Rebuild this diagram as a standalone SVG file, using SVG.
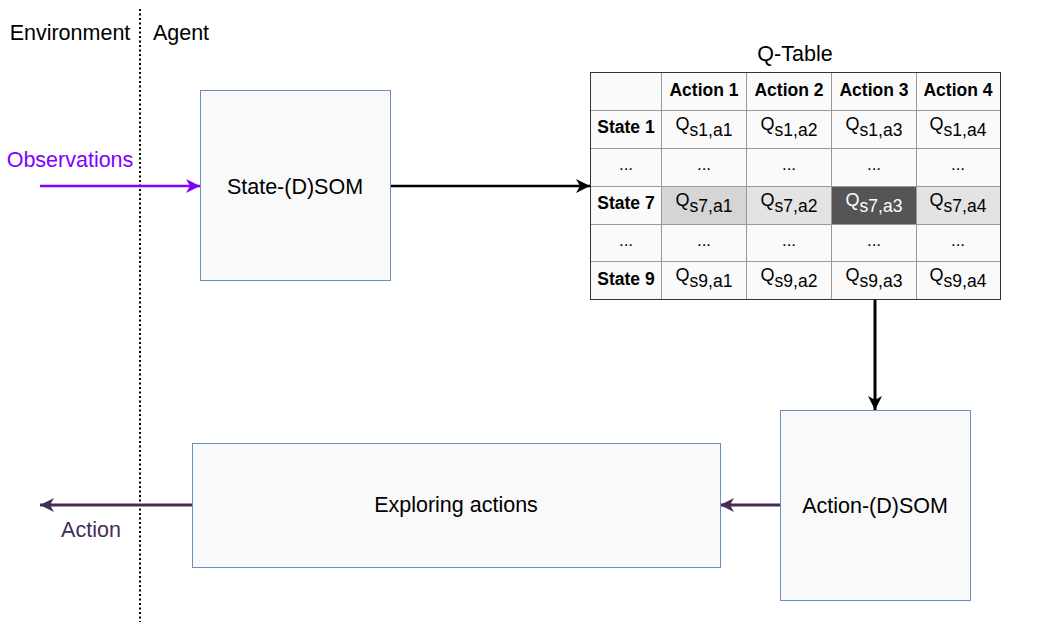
<svg xmlns="http://www.w3.org/2000/svg" width="1040" height="630" viewBox="0 0 1040 630">
<style>
text{font-family:"Liberation Sans",Arial,sans-serif;}
.box{fill:#f9f9f9;stroke:#6c8ebf;stroke-width:1;}
.lbl{font-size:21.5px;fill:#000;text-anchor:middle;}
.cell{fill:#fafafa;stroke:#999;stroke-width:1;}
.hd{font-size:17.5px;font-weight:bold;text-anchor:middle;}
.q{font-size:18px;text-anchor:middle;}
.sub{font-size:17.5px;}
.dots{font-size:17px;text-anchor:middle;}
</style>
<defs>
<marker id="ab" viewBox="0 0 14 14" refX="14" refY="7" markerWidth="14" markerHeight="14" orient="auto" markerUnits="userSpaceOnUse"><path d="M0,0 L14,7 L0,14 L4,7 Z" fill="#000"/></marker>
<marker id="ap" viewBox="0 0 14 14" refX="14" refY="7" markerWidth="14" markerHeight="14" orient="auto" markerUnits="userSpaceOnUse"><path d="M0,0 L14,7 L0,14 L4,7 Z" fill="#7f00ff"/></marker>
<marker id="ad" viewBox="0 0 14 14" refX="14" refY="7" markerWidth="14" markerHeight="14" orient="auto" markerUnits="userSpaceOnUse"><path d="M0,0 L14,7 L0,14 L4,7 Z" fill="#432d57"/></marker>
</defs>
<rect width="1040" height="630" fill="#ffffff"/>
<g id="divider">
<line x1="140" y1="9" x2="140" y2="622" stroke="#000" stroke-width="2" stroke-dasharray="2 2.5"/>
<text x="70" y="40" font-size="21.5" text-anchor="middle">Environment</text>
<text x="181" y="40" font-size="21.5" text-anchor="middle">Agent</text>
</g>
<g id="connectors">
<line x1="40" y1="186" x2="200" y2="186" stroke="#7f00ff" stroke-width="2.5" marker-end="url(#ap)"/>
<line x1="390" y1="186" x2="590" y2="186" stroke="#000" stroke-width="2.5" marker-end="url(#ab)"/>
<line x1="875" y1="300" x2="875" y2="410" stroke="#000" stroke-width="3" marker-end="url(#ab)"/>
<line x1="780" y1="505" x2="720" y2="505" stroke="#432d57" stroke-width="3" marker-end="url(#ad)"/>
<line x1="192" y1="505" x2="40" y2="505" stroke="#432d57" stroke-width="3" marker-end="url(#ad)"/>
<text x="70" y="167" font-size="21.5" fill="#7f00ff" text-anchor="middle">Observations</text>
<text x="91" y="537" font-size="21.5" fill="#432d57" text-anchor="middle">Action</text>
</g>
<g id="state-som">
<rect class="box" x="200.5" y="90.5" width="190" height="190"/>
<text class="lbl" x="295" y="194">State-(D)SOM</text>
</g>
<g id="qtable">
<text x="795" y="61" font-size="21.5" text-anchor="middle">Q-Table</text>
<g>
<rect class="cell" x="590.5" y="72.5" width="71" height="38"/><rect class="cell" x="661.5" y="72.5" width="85" height="38"/><rect class="cell" x="746.5" y="72.5" width="85" height="38"/><rect class="cell" x="831.5" y="72.5" width="85" height="38"/><rect class="cell" x="916.5" y="72.5" width="84" height="38"/>
<rect class="cell" x="590.5" y="110.5" width="71" height="38"/><rect class="cell" x="661.5" y="110.5" width="85" height="38"/><rect class="cell" x="746.5" y="110.5" width="85" height="38"/><rect class="cell" x="831.5" y="110.5" width="85" height="38"/><rect class="cell" x="916.5" y="110.5" width="84" height="38"/>
<rect class="cell" x="590.5" y="148.5" width="71" height="38"/><rect class="cell" x="661.5" y="148.5" width="85" height="38"/><rect class="cell" x="746.5" y="148.5" width="85" height="38"/><rect class="cell" x="831.5" y="148.5" width="85" height="38"/><rect class="cell" x="916.5" y="148.5" width="84" height="38"/>
<rect class="cell" x="590.5" y="186.5" width="71" height="38"/><rect class="cell" x="661.5" y="186.5" width="85" height="38" style="fill:#d5d5d5"/><rect class="cell" x="746.5" y="186.5" width="85" height="38" style="fill:#e3e3e3"/><rect class="cell" x="831.5" y="186.5" width="85" height="38" style="fill:#555555"/><rect class="cell" x="916.5" y="186.5" width="84" height="38" style="fill:#e3e3e3"/>
<rect class="cell" x="590.5" y="224.5" width="71" height="37"/><rect class="cell" x="661.5" y="224.5" width="85" height="37"/><rect class="cell" x="746.5" y="224.5" width="85" height="37"/><rect class="cell" x="831.5" y="224.5" width="85" height="37"/><rect class="cell" x="916.5" y="224.5" width="84" height="37"/>
<rect class="cell" x="590.5" y="261.5" width="71" height="38"/><rect class="cell" x="661.5" y="261.5" width="85" height="38"/><rect class="cell" x="746.5" y="261.5" width="85" height="38"/><rect class="cell" x="831.5" y="261.5" width="85" height="38"/><rect class="cell" x="916.5" y="261.5" width="84" height="38"/>
<rect x="590.5" y="72.5" width="410" height="227" fill="none" stroke="#333" stroke-width="1"/>
</g>
<text class="hd" x="704" y="96">Action 1</text>
<text class="hd" x="789" y="96">Action 2</text>
<text class="hd" x="874" y="96">Action 3</text>
<text class="hd" x="958" y="96">Action 4</text>
<text class="hd" x="626" y="133">State 1</text>
<text class="hd" x="626" y="209">State 7</text>
<text class="hd" x="626" y="285">State 9</text>
<text class="q" x="704" y="130">Q<tspan class="sub" dy="6">s1,a1</tspan></text>
<text class="q" x="789" y="130">Q<tspan class="sub" dy="6">s1,a2</tspan></text>
<text class="q" x="874" y="130">Q<tspan class="sub" dy="6">s1,a3</tspan></text>
<text class="q" x="958" y="130">Q<tspan class="sub" dy="6">s1,a4</tspan></text>
<text class="q" x="704" y="206">Q<tspan class="sub" dy="6">s7,a1</tspan></text>
<text class="q" x="789" y="206">Q<tspan class="sub" dy="6">s7,a2</tspan></text>
<text class="q" x="874" y="206" fill="#ffffff">Q<tspan class="sub" dy="6">s7,a3</tspan></text>
<text class="q" x="958" y="206">Q<tspan class="sub" dy="6">s7,a4</tspan></text>
<text class="q" x="704" y="281">Q<tspan class="sub" dy="6">s9,a1</tspan></text>
<text class="q" x="789" y="281">Q<tspan class="sub" dy="6">s9,a2</tspan></text>
<text class="q" x="874" y="281">Q<tspan class="sub" dy="6">s9,a3</tspan></text>
<text class="q" x="958" y="281">Q<tspan class="sub" dy="6">s9,a4</tspan></text>
<text class="dots" x="626" y="170">...</text><text class="dots" x="704" y="170">...</text><text class="dots" x="789" y="170">...</text><text class="dots" x="874" y="170">...</text><text class="dots" x="958" y="170">...</text>
<text class="dots" x="626" y="246">...</text><text class="dots" x="704" y="246">...</text><text class="dots" x="789" y="246">...</text><text class="dots" x="874" y="246">...</text><text class="dots" x="958" y="246">...</text>
</g>
<g id="action-som">
<rect class="box" x="780.5" y="410.5" width="190" height="190"/>
<text class="lbl" x="875" y="513">Action-(D)SOM</text>
</g>
<g id="exploring">
<rect class="box" x="192.5" y="443.5" width="528" height="124"/>
<text class="lbl" x="456" y="512">Exploring actions</text>
</g>
</svg>
